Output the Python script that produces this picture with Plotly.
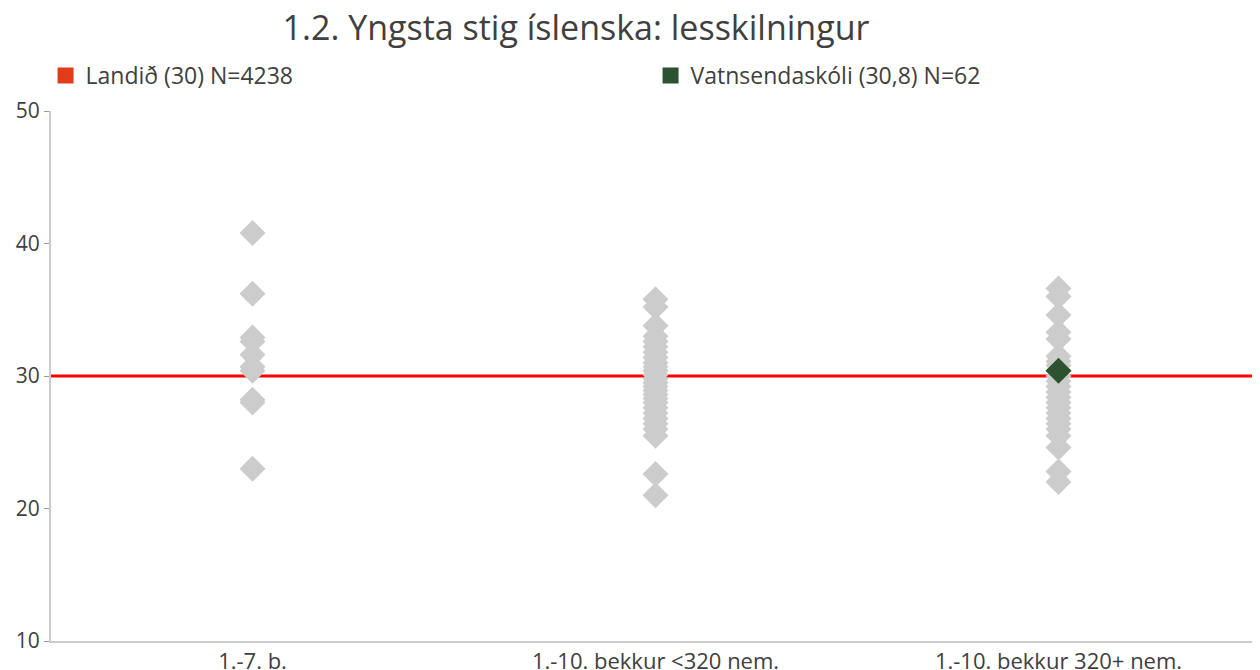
import plotly.graph_objects as go

categories = ["1.-7. b.", "1.-10. bekkur <320 nem.", "1.-10. bekkur 320+ nem."]

group_small = [40.8, 36.2, 32.9, 32.6, 31.6, 30.7, 30.4, 28.2, 28.0, 23.0]
group_mid = [35.8, 35.2, 33.8, 33.0, 32.6, 32.2, 31.8, 31.4, 31.0, 30.7, 30.4,
             30.1, 29.8, 29.5, 29.2, 28.9, 28.6, 28.3, 28.0, 27.6, 27.2, 26.8,
             26.4, 26.0, 25.5, 22.6, 21.0]
group_large = [36.6, 36.0, 34.6, 33.3, 32.8, 31.5, 31.1, 30.8, 30.4, 30.0, 29.6,
               29.2, 28.8, 28.4, 28.0, 27.6, 27.2, 26.8, 26.4, 26.0, 25.5, 24.6,
               22.8, 22.0]
groups = [group_small, group_mid, group_large]

school_name = "Vatnsendaskóli (30,8) N=62"
school_category = categories[2]
school_value = 30.4

national_name = "Landið (30) N=4238"
national_avg = 30

title_text = "1.2. Yngsta stig íslenska: lesskilningur"
y_ticks = [10, 20, 30, 40, 50]

FONT = "'Open Sans', Lato, sans-serif"
TXT = "#404040"

# the page body has an 8px margin, so the figure is sized to fill the rest
W, H = 1252, 662

fig = go.Figure()

xs, ys = [], []
for cat, vals in zip(categories, groups):
    xs += [cat] * len(vals)
    ys += vals

fig.add_trace(go.Scatter(
    x=xs, y=ys, mode="markers", showlegend=False, hoverinfo="y",
    marker=dict(symbol="diamond", size=20, color="#cccccc", line=dict(width=0)),
))
fig.add_trace(go.Scatter(
    x=[school_category], y=[school_value], mode="markers", showlegend=False,
    marker=dict(symbol="diamond", size=20, color="#2d5230", line=dict(width=0)),
))

# legend entries
fig.add_trace(go.Scatter(
    x=[None], y=[None], mode="markers", name=national_name,
    marker=dict(symbol="square", size=18, color="#e03c1a"),
))
fig.add_trace(go.Scatter(
    x=[None], y=[None], mode="markers", name=school_name,
    marker=dict(symbol="square", size=18, color="#2d5230"),
))

fig.add_shape(type="line", xref="paper", x0=0, x1=1, yref="y",
              y0=national_avg, y1=national_avg,
              line=dict(color="#ff0000", width=3), layer="below")

fig.update_layout(
    width=W, height=H,
    margin=dict(l=43, r=0, t=103, b=29, autoexpand=False),
    paper_bgcolor="white", plot_bgcolor="white",
    font=dict(family=FONT, color=TXT, size=19),
    title=dict(text=title_text, x=568 / W, xanchor="center", y=1 - 20 / H,
               yanchor="middle", font=dict(size=34, color=TXT, family=FONT)),
    showlegend=True,
    legend=dict(orientation="h", xref="container", yref="container",
                x=0.03, y=1 - 46 / H, yanchor="top", xanchor="left",
                entrywidth=560, entrywidthmode="pixels",
                font=dict(size=23, color=TXT, family=FONT),
                bgcolor="rgba(0,0,0,0)"),
    xaxis=dict(type="category", categoryorder="array", categoryarray=categories,
               range=[-0.5, 2.5], showline=True, linecolor="#cccccc",
               linewidth=2, showgrid=False, zeroline=False, ticks="",
               tickfont=dict(size=22, color=TXT)),
    yaxis=dict(range=[10, 50], tickvals=y_ticks, showline=True,
               linecolor="#cccccc", linewidth=2, showgrid=False,
               zeroline=False, ticks="outside", ticklen=5,
               tickcolor="#999999", tickwidth=1,
               tickfont=dict(size=21, color=TXT)),
)

fig.write_html("out.html")
